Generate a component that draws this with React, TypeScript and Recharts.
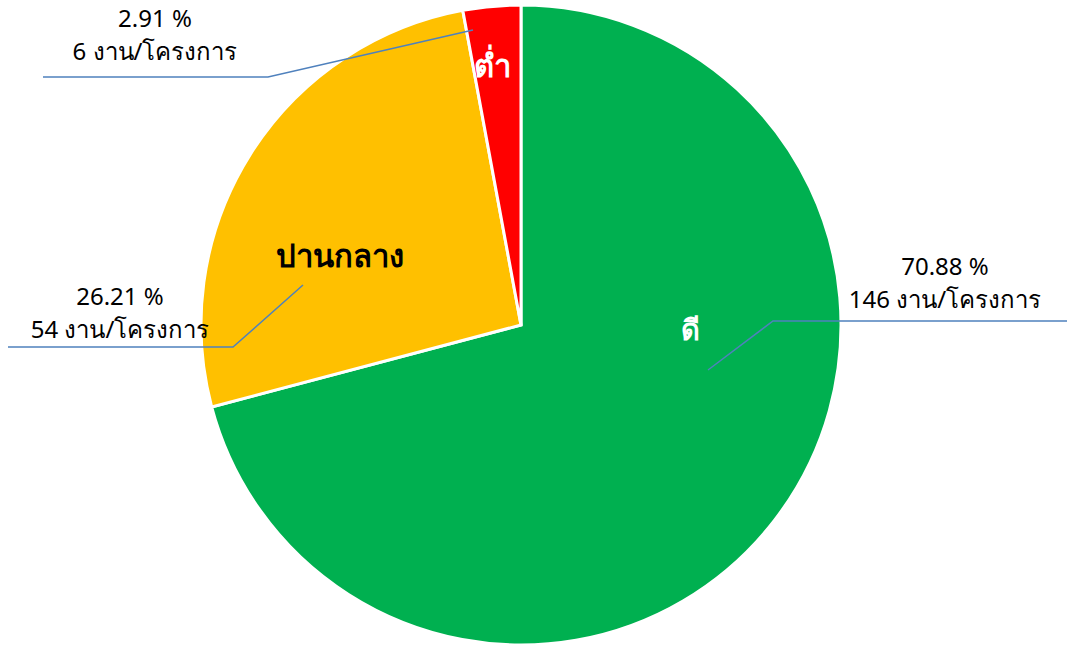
import { PieChart, Pie, Cell } from 'recharts'

const categories = ['ดี', 'ปานกลาง', 'ต่ำ']
const counts = [146, 54, 6]
const percents = [70.88, 26.21, 2.91]
const colors = ['#00B050', '#FFC000', '#FF0000']

const data = categories.map((name, i) => ({
  name,
  value: counts[i],
  pct: percents[i],
}))

// label layout, offsets from pie centre
const layout = [
  { inner: [169, 3], innerColor: '#fff', innerSize: 29, from: [187, 45], elbow: [252, -4], end: [546, -4], text: [424, -60] },
  { inner: [-181, -70], innerColor: '#000', innerSize: 31, from: [-218, -40], elbow: [-288, 22], end: [-513, 22], text: [-401, -30] },
  { inner: [-29, -260], innerColor: '#fff', innerSize: 31, from: [-48, -295], elbow: [-253, -248], end: [-478, -248], text: [-366, -308] },
]

const font = '"Noto Sans", Tahoma, sans-serif'

function renderLabel(props: any) {
  const { cx, cy, index } = props
  const l = layout[index]
  const d = data[index]
  return (
    <g key={`lbl-${index}`}>
      <text
        x={cx + l.inner[0]}
        y={cy + l.inner[1]}
        fill={l.innerColor}
        fontSize={l.innerSize}
        fontWeight="bold"
        textAnchor="middle"
        dominantBaseline="central"
        fontFamily={font}
      >
        {d.name}
      </text>
      <polyline
        points={`${cx + l.from[0]},${cy + l.from[1]} ${cx + l.elbow[0]},${cy + l.elbow[1]} ${cx + l.end[0]},${cy + l.end[1]}`}
        fill="none"
        stroke="#4F81BD"
        strokeWidth={1.5}
      />
      <text
        x={cx + l.text[0]}
        y={cy + l.text[1]}
        fill="#000"
        fontSize={24}
        textAnchor="middle"
        dominantBaseline="central"
        fontFamily={font}
      >
        {d.pct.toFixed(2)} %
      </text>
      <text
        x={cx + l.text[0]}
        y={cy + l.text[1] + 33}
        fill="#000"
        fontSize={24}
        textAnchor="middle"
        dominantBaseline="central"
        fontFamily={font}
      >
        {d.value} งาน/โครงการ
      </text>
    </g>
  )
}

export default function App() {
  return (
    <div style={{ position: 'fixed', left: 0, top: 0, background: '#fff' }}>
      <PieChart width={1067} height={645}>
        <Pie
          data={data}
          dataKey="value"
          cx={516}
          cy={320}
          outerRadius={320}
          startAngle={90}
          endAngle={-270}
          stroke="#fff"
          strokeWidth={3}
          label={renderLabel}
          labelLine={false}
          isAnimationActive={false}
        >
          {data.map((entry, index) => (
            <Cell key={`cell-${index}`} fill={colors[index]} />
          ))}
        </Pie>
      </PieChart>
    </div>
  )
}
